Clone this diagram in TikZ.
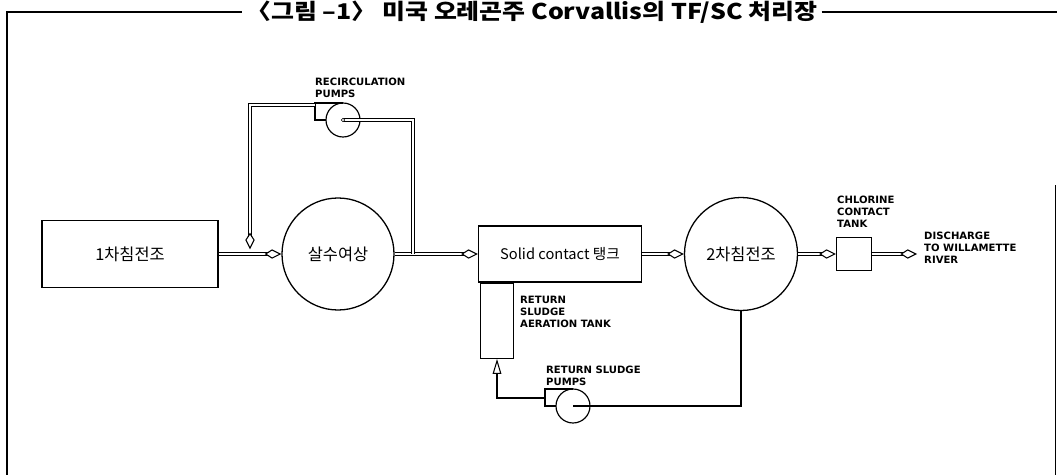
\documentclass[tikz,border=0pt]{standalone}
\usepackage{fontspec}
\setmainfont{Noto Sans CJK KR}
\newfontfamily\titlefont{Noto Sans CJK KR}[FakeStretch=1.15]
\newfontfamily\labfont{DejaVu Sans}
\usepackage{tikz}
\usetikzlibrary{calc}
\usetikzlibrary{arrows.meta}

\tikzset{
  tank/.style={draw,line width=1.1pt,inner sep=0pt,font=\fontsize{14}{16}\selectfont},
  pipe/.style={draw,double,line width=0.9pt,double distance=1.7pt},
  sludge/.style={draw,line width=1.1pt},
  flow/.style={-{Kite[open,line width=0.9pt,length=5mm,width=2.8mm,inset=2.2mm]}},
  tag/.style={font=\labfont\bfseries\fontsize{8.6}{10.2}\selectfont,align=left,inner sep=0pt,anchor=north west},
  pump/.pic={
    \draw[line width=1pt,fill=white] (0,0) circle (0.51cm);
    \draw[line width=1pt] (-17,0) -- (-28,0) -- (-28,-17) -- (0,-17);
  }
}

\begin{document}
\begin{tikzpicture}[x=0.03cm,y=-0.03cm]
\useasboundingbox (0,0) rectangle (1057,475);

% Frame and title
\node[font=\titlefont\bfseries\fontsize{18.5}{19}\selectfont] (title) at (532,12) {〈그림 –1〉 미국 오레곤주 Corvallis의 TF/SC 처리장};
\draw[line width=1pt] (7,475) |- (title.west);
\draw[line width=1pt] (title.east) -- (1057,12);
\draw[line width=0.8pt] (1055,185) -- (1055,475);

% Tanks
\node[tank,minimum width=5.28cm,minimum height=2.01cm] (prim) at (130,254) {1차침전조};
\node[tank,circle,minimum size=3.36cm] (tf) at (338,254) {살수여상};
\node[tank,minimum width=4.89cm,minimum height=1.68cm,font=\fontsize{12.5}{14}\selectfont] (sc) at (560,254) {Solid contact 탱크};
\node[tank,minimum width=0.99cm,minimum height=2.25cm,anchor=north] (rsat) at (sc.south -| 497,0) {};
\node[tank,circle,minimum size=3.39cm] (sec) at (741,254) {2차침전조};
\node[tank,minimum width=1.05cm,minimum height=0.99cm] (cct) at (854,254) {};

% Main flow
\coordinate (jl) at (250,254);
\coordinate (jr) at (413,254);
\coordinate (dis) at (917,254);
\draw[pipe,flow] (prim) -- (tf);
\draw[pipe,flow] (tf) -- (sc);
\draw[pipe,flow] (sc) -- (sec);
\draw[pipe,flow] (sec) -- (cct);
\draw[pipe,flow] (cct) -- (dis);

% Recirculation pumps
\coordinate (rp) at (343,120);
\pic at (rp) {pump};
\draw[pipe] (jr) |- (rp);
\draw[fill=white] (rp) circle (1.5pt);
\draw[pipe,flow,shorten >=4pt] ($(rp)+(-28,-15)$) -| (jl);

% Return sludge pumps
\coordinate (sp) at (573,406);
\pic at (sp) {pump};
\draw[sludge] (sec.south) |- (sp);
\draw[sludge,-{Triangle[open,line width=0.9pt,length=4.5mm,width=2.6mm]}] ($(sp)+(-28,-8)$) -| (rsat.south);

% Labels
\node[tag] (recirclab) at (315,78) {RECIRCULATION\\PUMPS};
\node[tag] (rsatlab) at (520,296) {RETURN\\SLUDGE\\AERATION TANK};
\node[tag] (splab) at (546,366) {RETURN SLUDGE\\PUMPS};
\node[tag] (cctlab) at (837,196) {CHLORINE\\CONTACT\\TANK};
\node[tag] (dislab) at (924,232) {DISCHARGE\\TO WILLAMETTE\\RIVER};
\end{tikzpicture}
\end{document}
